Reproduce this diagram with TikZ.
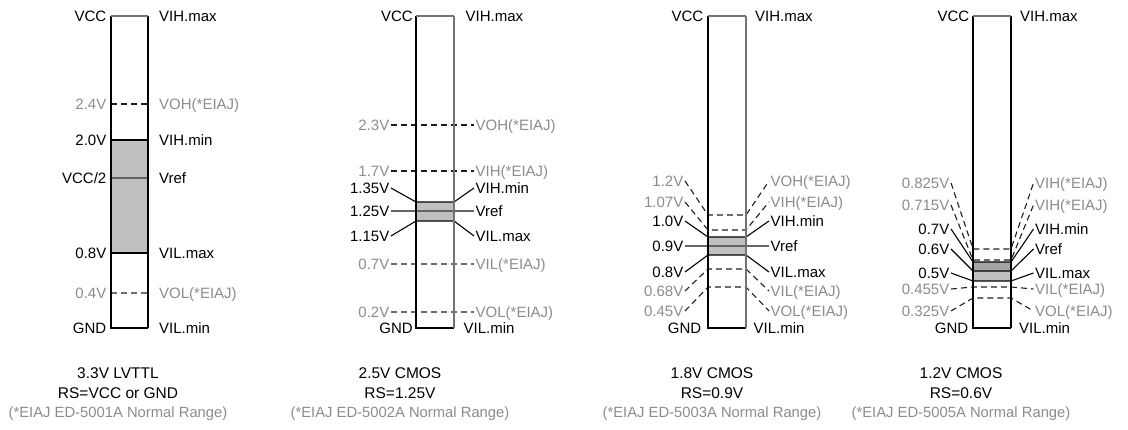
\documentclass[tikz,border=0pt]{standalone}
\usepackage{fontspec}
\setmainfont{Liberation Sans}
\definecolor{ink}{RGB}{0,0,0}
\definecolor{dimtext}{RGB}{140,140,140}
\definecolor{bandfill}{RGB}{192,192,192}
\definecolor{banddeep}{RGB}{165,165,165}
\definecolor{refgray}{RGB}{100,100,100}
\definecolor{edgegray}{RGB}{115,115,115}
\definecolor{dashdark}{RGB}{30,30,30}
\definecolor{dashsoft}{RGB}{110,110,110}

\begin{document}
\begin{tikzpicture}[x=1pt, y=-1pt,
    vtag/.style={font=\fontsize{15}{18}\selectfont, text height=10.7pt, text depth=0pt, inner ysep=0pt, inner xsep=1.5pt},
    lt/.style={vtag, anchor=east},
    rt/.style={vtag, anchor=west},
    stdline/.style={font=\fontsize{15.5}{19}\selectfont, text height=11.1pt, text depth=0pt, inner sep=0pt},
    note/.style={font=\fontsize{14.8}{18}\selectfont, text height=10.6pt, text depth=0pt, inner sep=0pt, text=dimtext},
    lvl/.style={draw=ink, line width=1.1pt},
    lvldash/.style={draw=dashdark, line width=1.1pt, dash pattern=on 6pt off 4pt},
    lvlsoft/.style={lvldash, draw=dashsoft},
    vrefline/.style={draw=refgray, line width=1.3pt},
    band/.style={fill=bandfill},
    rail/.style={line width=1.1pt},
    railtop/.style={draw=edgegray, line width=1.1pt}]
  \useasboundingbox (0,0) rectangle (1128,430);

  % bands of each standard
  \fill[band] (111,140) rectangle (148,253);
  \fill[band] (416,202) rectangle (454,221);
  \fill[band] (708,237) rectangle (746,255);
  \fill[band] (973,262) rectangle (1011,281);
  \fill[banddeep] (973,262) rectangle (1011,271);

  % 3.3V LVTTL: labels sit next to the bar
  \foreach \n/\lt/\rt/\y/\tone/\ln in {a/2.4V/VOH(*EIAJ)/104/dimtext/lvldash,
      b/2.0V/VIH.min/140/ink/lvl, c/{VCC/2}/Vref/178/ink/vrefline,
      d/0.8V/VIL.max/253/ink/lvl, e/0.4V/VOL(*EIAJ)/293/dimtext/lvlsoft}{
    \node[lt, text=\tone] (L1\n) at (108,\y) {\lt};
    \node[rt, text=\tone] (R1\n) at (157.5,\y) {\rt};
    \coordinate (P1\n) at (111,\y);
    \coordinate (Q1\n) at (148,\y);
    \draw[\ln] (P1\n) -- (Q1\n);
  }

  % 2.5V CMOS
  \foreach \n/\lt/\rt/\ly/\by/\tone/\ln in {a/2.3V/VOH(*EIAJ)/125/125/dimtext/lvldash,
      b/1.7V/VIH(*EIAJ)/171/171/dimtext/lvldash, c/1.35V/VIH.min/188/202/ink/lvl,
      d/1.25V/Vref/211/211/ink/vrefline, e/1.15V/VIL.max/236/221/ink/lvl,
      f/0.7V/VIL(*EIAJ)/264/264/dimtext/lvlsoft, g/0.2V/VOL(*EIAJ)/312/312/dimtext/lvlsoft}{
    \node[lt, text=\tone] (L2\n) at (391,\ly) {\lt};
    \node[rt, text=\tone] (R2\n) at (474,\ly) {\rt};
    \coordinate (P2\n) at (416,\by);
    \coordinate (Q2\n) at (454,\by);
    \draw[\ln] (L2\n.east) -- (P2\n) -- (Q2\n) -- (R2\n.west);
  }

  % 1.8V CMOS
  \foreach \n/\lt/\rt/\ly/\by/\tone/\ln in {a/1.2V/VOH(*EIAJ)/181/215/dimtext/lvldash,
      b/1.07V/VIH(*EIAJ)/202/230/dimtext/lvldash, c/1.0V/VIH.min/221/237/ink/lvl,
      d/0.9V/Vref/246/246/ink/vrefline, e/0.8V/VIL.max/272/255/ink/lvl,
      f/0.68V/VIL(*EIAJ)/291/269/dimtext/lvldash, g/0.45V/VOL(*EIAJ)/311/287/dimtext/lvldash}{
    \node[lt, text=\tone] (L3\n) at (685,\ly) {\lt};
    \node[rt, text=\tone] (R3\n) at (769,\ly) {\rt};
    \coordinate (P3\n) at (708,\by);
    \coordinate (Q3\n) at (746,\by);
    \draw[\ln] (L3\n.east) -- (P3\n) -- (Q3\n) -- (R3\n.west);
  }

  % 1.2V CMOS
  \foreach \n/\lt/\rt/\ly/\by/\tone/\ln in {a/0.825V/VIH(*EIAJ)/183/249/dimtext/lvldash,
      b/0.715V/VIH(*EIAJ)/205/260/dimtext/lvldash, c/0.7V/VIH.min/229/262/ink/lvl,
      d/0.6V/Vref/249/271/ink/lvl, e/0.5V/VIL.max/273/281/ink/lvl,
      f/0.455V/VIL(*EIAJ)/289/287/dimtext/lvldash, g/0.325V/VOL(*EIAJ)/311/298/dimtext/lvldash}{
    \node[lt, text=\tone] (L4\n) at (951,\ly) {\lt};
    \node[rt, text=\tone] (R4\n) at (1033.5,\ly) {\rt};
    \coordinate (P4\n) at (973,\by);
    \coordinate (Q4\n) at (1011,\by);
    \draw[\ln] (L4\n.east) -- (P4\n) -- (Q4\n) -- (R4\n.west);
  }

  % the bars, VCC on top and GND below
  \foreach \k/\xl/\xr/\rc/\vx/\hx/\gx/\mx in {1/111/148/ink/108/157.5/108/157.5,
      2/416/454/edgegray/414.5/464/414.5/462, 3/708/746/edgegray/705/753.5/703/752,
      4/973/1011/ink/971/1018.5/970/1017.5}{
    \draw[rail] (\xl,16) -- (\xl,328) -- (\xr,328);
    \draw[rail, draw=\rc] (\xr,328) -- (\xr,16);
    \draw[railtop] (\xl,16) -- (\xr,16);
    \node[lt] (vcc\k) at (\vx,16) {VCC};
    \node[rt] (vih\k) at (\hx,16) {VIH.max};
    \node[lt] (gnd\k) at (\gx,328) {GND};
    \node[rt] (vil\k) at (\mx,328) {VIL.min};
  }

  % captions
  \foreach \k/\x/\std/\rs/\doc in {1/118/3.3V LVTTL/RS=VCC or GND/5001A,
      2/400/2.5V CMOS/RS=1.25V/5002A, 3/712/1.8V CMOS/RS=0.9V/5003A,
      4/961/1.2V CMOS/RS=0.6V/5005A}{
    \node[stdline] (std\k) at (\x,373) {\std};
    \node[stdline] (rs\k) at (\x,393) {\rs};
    \node[note] (eiaj\k) at (\x,412) {(*EIAJ ED-\doc\ Normal Range)};
  }
\end{tikzpicture}
\end{document}
